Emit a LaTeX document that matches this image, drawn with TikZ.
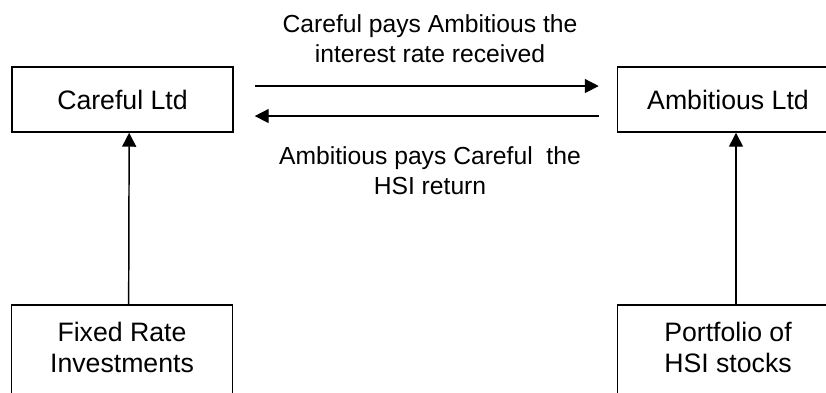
\documentclass[tikz,border=0pt]{standalone}
\usepackage{fontspec}
\setmainfont{Liberation Sans}
\usepackage{tikz}
\usetikzlibrary{arrows.meta}
\usetikzlibrary{positioning}

\begin{document}
\begin{tikzpicture}[x=0.75pt,y=-0.75pt,
		firm/.style={draw, line width=1.1pt, minimum width=165.75pt, minimum height=48.75pt, align=center, font=\fontsize{20}{23.5}\selectfont},
		asset/.style={firm, minimum height=103.5pt, text depth=40pt},
		flow/.style={line width=1.1pt, -{Triangle[length=10.5pt,width=10.5pt]}},
		payment/.style={align=center, font=\fontsize{18.5}{22.5}\selectfont}]
		\useasboundingbox (0,0) rectangle (826,393);
		\clip (0,0) rectangle (826,393);
		\node[firm] (careful) at (122.5,99.5) {Careful Ltd};
		\node[firm] (ambitious) at (728,99.5) {Ambitious Ltd};
		\node[asset] (fixed) at (122,374) {Fixed Rate\\Investments};
		\node[asset] (portfolio) at (728,374) {Portfolio of\\HSI stocks};
		\draw[flow, shorten <=15.75pt, shorten >=13.5pt] ([yshift=10.1pt]careful.east) -- ([yshift=10.1pt]ambitious.west);
		\draw[flow, shorten <=13.5pt, shorten >=15.75pt] ([yshift=-12.4pt]ambitious.west) -- ([yshift=-12.4pt]careful.east);
		\draw[flow] ([xshift=5pt]fixed.north) -- ([xshift=5pt]careful.south);
		\draw[flow] ([xshift=6pt]portfolio.north) -- ([xshift=6pt]ambitious.south);
		\node[payment] (payrate) at (430,39) {Careful pays Ambitious the\\interest rate received};
		\node[payment] (payhsi) at (430,171) {Ambitious pays Careful\ \ the\\HSI return};
	\end{tikzpicture}
\end{document}
